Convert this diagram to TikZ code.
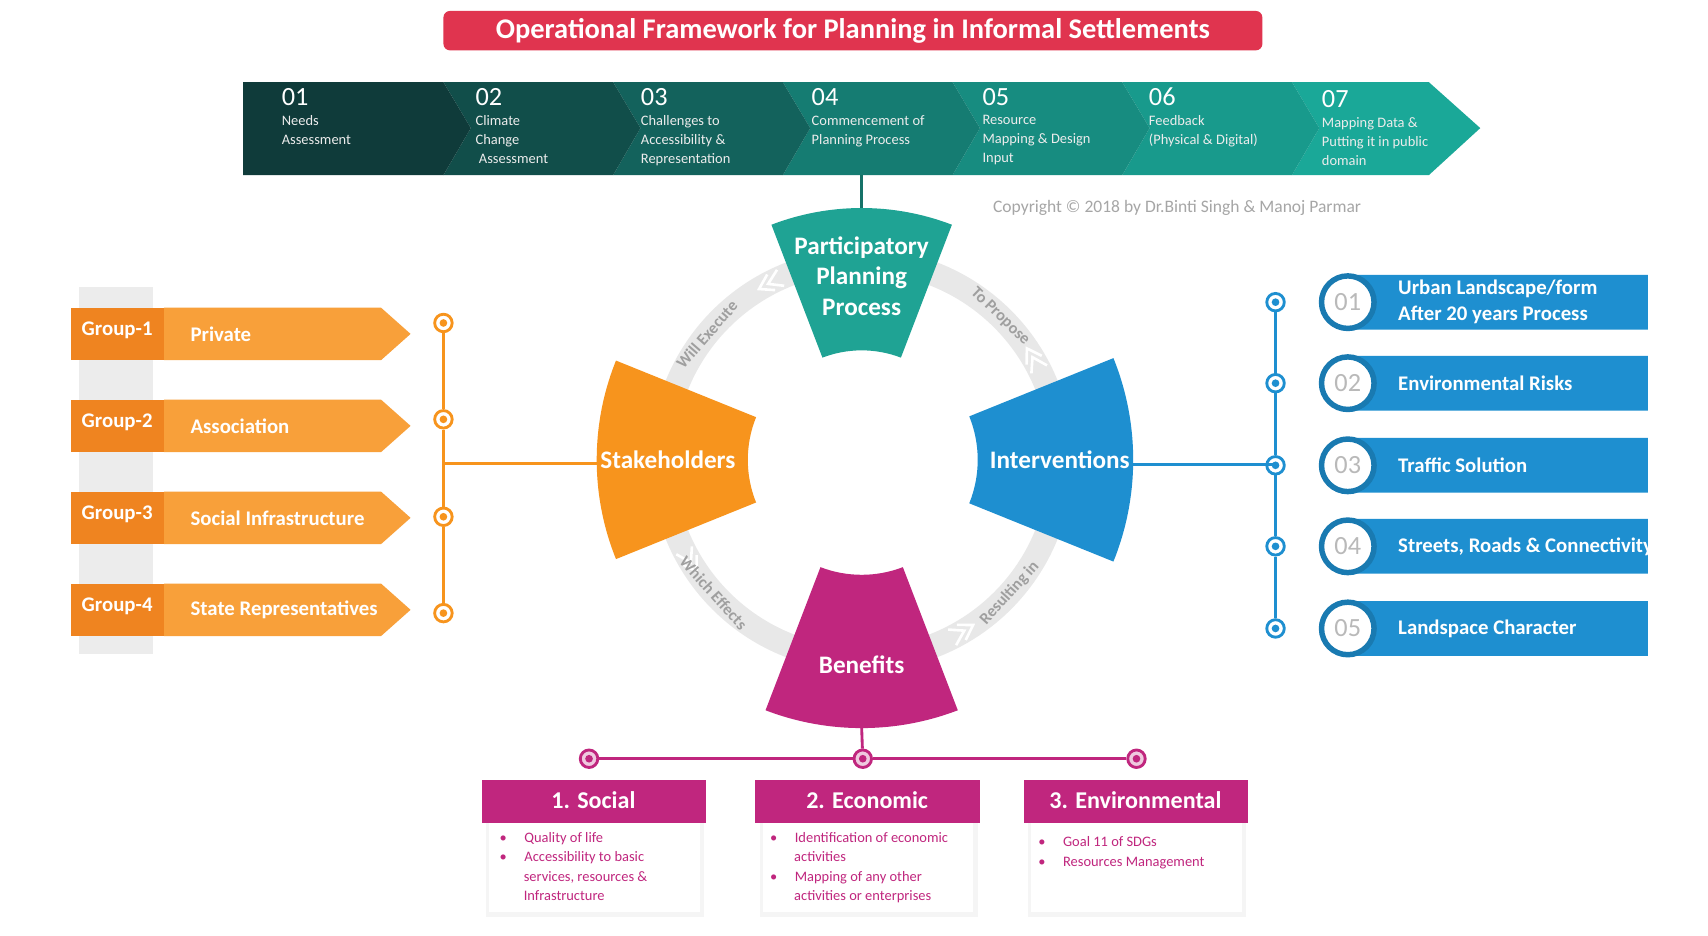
\documentclass[tikz,border=0pt]{standalone}
\usepackage{fontspec}
\setmainfont{Carlito}
\definecolor{ttl}{HTML}{E0344F}
\definecolor{tealc}{HTML}{1FA394}
\definecolor{orc}{HTML}{F7941D}
\definecolor{ortab}{HTML}{EF8420}
\definecolor{orbar}{HTML}{F8A03A}
\definecolor{bluc}{HTML}{1E8FD0}
\definecolor{magc}{HTML}{C0267E}
\definecolor{dk}{HTML}{0E3434}
\definecolor{lt}{HTML}{1AA898}
\tikzset{
 lbl/.style={text=white, font=\bfseries},
 bnum/.style={text=white, anchor=north west, inner sep=0, font=\fontsize{12}{14}\selectfont},
 btxt/.style={text=white!85!gray, anchor=north west, inner sep=0, align=left, font=\fontsize{6.6}{8.6}\selectfont},
 ringlbl/.style={text=gray!75, font=\fontsize{7.5}{9}\selectfont\bfseries},
 omark/.style={circle, draw=orc, line width=1.3pt, fill=white, minimum size=8pt, inner sep=0},
 bmark/.style={circle, draw=bluc, line width=1.3pt, fill=white, minimum size=8pt, inner sep=0},
 mmark/.style={circle, draw=magc, line width=1.3pt, fill=magc!25, minimum size=8pt, inner sep=0},
 bul/.style={text=magc, anchor=north west, inner sep=0, align=left, font=\fontsize{6.6}{8.8}\selectfont},
}
\begin{document}
\begin{tikzpicture}[x=0.5pt,y=-0.5pt]
\useasboundingbox[fill=white] (0,0) rectangle (1560,854);
% title
\node[fill=ttl, rounded corners=3pt, minimum width=748*0.5pt, minimum height=36*0.5pt, text=white, font=\fontsize{13}{15}\selectfont\bfseries] (title) at (779,28) {Operational Framework for Planning in Informal Settlements};
% banner
\foreach \i/\a/\b/\p in {6/1180/1305/100,5/1025/1180/88,4/870/1025/76,3/715/870/62,2/560/715/40,1/405/560/22,0/222/405/6}{
  \ifnum\i=6
   \fill[lt!\p!dk] (\a,75) -- (\b,75) -- (1352,117) -- (\b,160) -- (\a,160) -- (\a+25,117) -- cycle;
  \else\ifnum\i=0
   \fill[lt!\p!dk] (\a,75) -- (\b,75) -- (\b+25,117) -- (\b,160) -- (\a,160) -- cycle;
  \else
   \fill[lt!\p!dk] (\a,75) -- (\b,75) -- (\b+25,117) -- (\b,160) -- (\a,160) -- (\a+25,117) -- cycle;
  \fi\fi
}
\node[bnum] (n1) at (257,80) {01};
\node[btxt] (t1) at (257,105) {Needs\\Assessment};
\node[bnum] (n2) at (434,80) {02};
\node[btxt] (t2) at (434,105) {Climate\\Change\\\ Assessment};
\node[bnum] (n3) at (585,80) {03};
\node[btxt] (t3) at (585,105) {Challenges to\\Accessibility \&\\Representation};
\node[bnum] (n4) at (741,80) {04};
\node[btxt] (t4) at (741,105) {Commencement of\\Planning Process};
\node[bnum] (n5) at (897,80) {05};
\node[btxt] (t5) at (897,105) {Resource\\Mapping \& Design\\Input};
\node[bnum] (n6) at (1049,80) {06};
\node[btxt] (t6) at (1049,105) {Feedback\\(Physical \& Digital)};
\node[bnum] (n7) at (1207,82) {07};
\node[btxt] (t7) at (1207,107) {Mapping Data \&\\Putting it in public\\domain};
\coordinate (bannerbot) at (787,160);
\node[text=gray!70, font=\fontsize{8}{10}\selectfont, anchor=west] (copy) at (900,190) {Copyright © 2018 by Dr.Binti Singh \& Manoj Parmar};
% ring
\begin{scope}[shift={(787,420)}]
 \draw[gray!18, line width=11pt] (0,0) circle[radius=182];
 \foreach \a in {117,30,-60,-150}{
   \draw[white, line width=1.2pt] ({-\a}:174) -- ({-\a-4}:182) -- ({-\a}:190);
   \draw[white, line width=1.2pt] ({-\a+3}:174) -- ({-\a-1}:182) -- ({-\a+3}:190);
 }
 \node[ringlbl, rotate=49] (r1) at (-141:182) {Will Execute};
 \node[ringlbl, rotate=-44] (r2) at (-46:182) {To Propose};
 \node[ringlbl, rotate=48] (r3) at (42:182) {Resulting in};
 \node[ringlbl, rotate=-48] (r4) at (138:182) {Which Effects};
 \fill[tealc] (-69:230) arc[start angle=-69,end angle=-111,radius=230] -- (-111:100) arc[start angle=-111,end angle=-69,radius=100] -- cycle;
 \fill[orc] (158:242) arc[start angle=158,end angle=202,radius=242] -- (202:104) arc[start angle=202,end angle=158,radius=104] -- cycle;
 \fill[bluc] (-22:248) arc[start angle=-22,end angle=22,radius=248] -- (22:106) arc[start angle=22,end angle=-22,radius=106] -- cycle;
 \fill[magc] (69:245) arc[start angle=69,end angle=111,radius=245] -- (111:105) arc[start angle=111,end angle=69,radius=105] -- cycle;
 \node[lbl, align=center, font=\fontsize{11.5}{14}\selectfont\bfseries] (ppp) at (0,-168) {Participatory\\Planning\\Process};
 \node[lbl, font=\fontsize{11.5}{14}\selectfont\bfseries] (stk) at (180:177) {Stakeholders};
 \node[lbl, font=\fontsize{11.5}{14}\selectfont\bfseries] (int) at (0:181) {Interventions};
 \node[lbl, font=\fontsize{11.5}{14}\selectfont\bfseries] (ben) at (0,187) {Benefits};
 \coordinate (ppptop) at (0,-230);
 \coordinate (stkl) at (-242,3);
 \coordinate (intr) at (248,4);
 \coordinate (benb) at (0,245);
\end{scope}
\draw[tealc!70!black, line width=1.3pt] (bannerbot) -- (ppptop);
% left groups
\fill[gray!15] (72,262) rectangle (140,597);
\foreach \k/\y/\t in {1/305/Private,2/389/Association,3/473/Social Infrastructure,4/557/State Representatives}{
  \fill[orbar] (150,\y-24) -- (348,\y-24) -- (375,\y) -- (348,\y+24) -- (150,\y+24) -- cycle;
  \fill[ortab] (65,\y-24) rectangle (150,\y+24);
  \node[text=white, font=\fontsize{9.5}{11}\selectfont\bfseries] (g\k) at (107,\y-3) {Group-\k};
  \node[text=white, anchor=west, font=\fontsize{9.5}{11}\selectfont\bfseries] (gt\k) at (167,\y) {\t};
}
\node[omark] (om1) at (405,295) {};
\node[omark] (om2) at (405,383) {};
\node[omark] (om3) at (405,472) {};
\node[omark] (om4) at (405,560) {};
\coordinate (ljoin) at (405,423);
\draw[orc, line width=1.3pt] (om1) -- (om2) -- (om3) -- (om4);
\draw[orc, line width=1.3pt] (ljoin) -- (stkl);
\foreach \k in {1,...,4}{\fill[orc] (om\k) circle[radius=3.5];}
% right
\foreach \k/\y in {1/276,2/350,3/425,4/499,5/574}{\node[bmark] (bm\k) at (1165,\y) {};}
\coordinate (rjoin) at (1165,424);
\draw[bluc, line width=1.3pt] (bm1) -- (bm2) -- (bm3) -- (bm4) -- (bm5);
\draw[bluc, line width=1.3pt] (intr) -- (rjoin);
\foreach \k in {1,...,5}{\fill[bluc] (bm\k) circle[radius=3.5];}
\foreach \k/\y/\t in {1/276/{Urban Landscape/form\\After 20 years Process},2/350/Environmental Risks,3/425/Traffic Solution,4/499/{Streets, Roads \& Connectivity},5/574/Landspace Character}{
  \begin{scope}
   \clip (1200,\y-30) rectangle (1505,\y+30);
   \fill[bluc, rounded corners=5pt] (1215,\y-25) rectangle (1520,\y+25);
   \node[text=white, anchor=west, align=left, font=\fontsize{9.5}{12}\selectfont\bfseries] (it\k) at (1270,\y) {\t};
  \end{scope}
  \node[circle, fill=white, draw=bluc!85!black, line width=2.5pt, minimum size=24pt, inner sep=0, text=gray!55, font=\fontsize{12}{14}\selectfont] (ic\k) at (1231,\y) {0\k};
}
% bottom
\node[mmark] (mm1) at (538,693) {};
\node[mmark] (mm2) at (788,693) {};
\node[mmark] (mm3) at (1038,693) {};
\draw[magc, line width=1.3pt] (benb) -- (mm2);
\draw[magc, line width=1.3pt] (mm1) -- (mm2) -- (mm3);
\foreach \k in {1,2,3}{\fill[magc] (mm\k) circle[radius=3.5];}
\foreach \k/\x/\t in {1/440/1. Social,2/690/2. Economic,3/935/3. Environmental}{
  \fill[gray!8] (\x+4,752) rectangle (\x+203,838);
  \fill[white] (\x+7,752) rectangle (\x+199,833);
  \fill[magc] (\x,712) rectangle (\x+205,752);
  \node[text=white, font=\fontsize{11}{13}\selectfont\bfseries] (h\k) at (\x+102,731) {\t};
}
\node[bul] (b1) at (456,760) {•\hspace{8pt}Quality of life\\•\hspace{8pt}Accessibility to basic\\\hspace{11pt}services, resources \&\\\hspace{11pt}Infrastructure};
\node[bul] (b2) at (703,760) {•\hspace{8pt}Identification of economic\\\hspace{11pt}activities\\•\hspace{8pt}Mapping of any other\\\hspace{11pt}activities or enterprises};
\node[bul] (b3) at (948,764) {•\hspace{8pt}Goal 11 of SDGs\\•\hspace{8pt}Resources Management};
\end{tikzpicture}
\end{document}
